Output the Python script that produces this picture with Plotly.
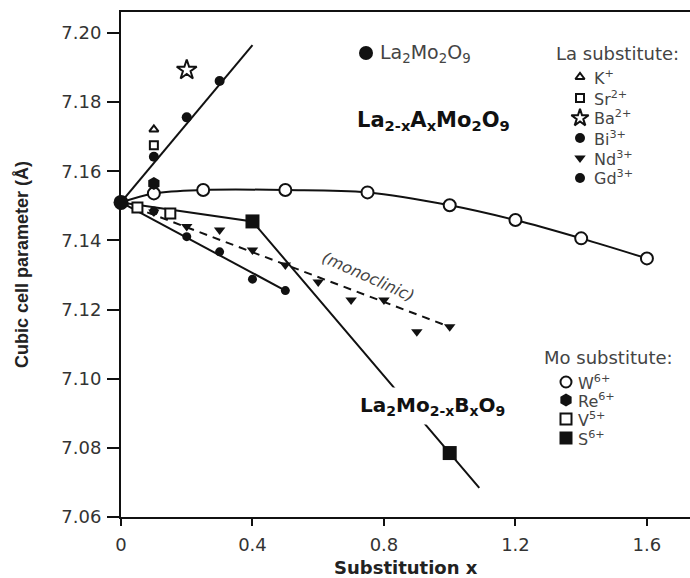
import plotly.graph_objects as go

# ---- data (cubic cell parameter in Angstrom vs substitution x) ----
parent_x = [0.0]
parent_y = [7.151]

# La-site substituents
k_x = [0.1]
k_y = [7.1721]
sr_x = [0.1]
sr_y = [7.1675]
ba_x = [0.2]
ba_y = [7.1893]
bi_x = [0.1, 0.2, 0.3]
bi_y = [7.1642, 7.1756, 7.1861]
bi_line_x = [0.0, 0.4]
bi_line_y = [7.151, 7.1965]
nd_x = [0.1, 0.2, 0.3, 0.4, 0.5, 0.6, 0.7, 0.8, 0.9, 1.0]
nd_y = [7.1482, 7.1440, 7.1430, 7.1372, 7.1329, 7.1280, 7.1228, 7.1228, 7.1136, 7.1150]
nd_line_x = [0.0, 1.0]
nd_line_y = [7.151, 7.115]
gd_x = [0.1, 0.2, 0.3, 0.4, 0.5]
gd_y = [7.1485, 7.1411, 7.1367, 7.1288, 7.1255]
gd_line_x = [0.0, 0.5]
gd_line_y = [7.151, 7.1255]

# Mo-site substituents
w_x = [0.1, 0.25, 0.5, 0.75, 1.0, 1.2, 1.4, 1.6]
w_y = [7.1536, 7.1546, 7.1546, 7.1539, 7.1502, 7.1459, 7.1406, 7.1348]
re_x = [0.1]
re_y = [7.1565]
v_x = [0.05, 0.15]
v_y = [7.1495, 7.1478]
s_x = [0.4, 1.0]
s_y = [7.1455, 7.0785]
s_line_x = [0.0, 0.4, 1.0, 1.09]
s_line_y = [7.151, 7.1455, 7.0785, 7.0684]

x_ticks = [0, 0.4, 0.8, 1.2, 1.6]
x_tick_text = ["0", "0.4", "0.8", "1.2", "1.6"]
y_ticks = [7.06, 7.08, 7.10, 7.12, 7.14, 7.16, 7.18, 7.20]

# ---- layout geometry ----
W, H = 690, 578
L, R, T, B = 121, 0, 12, 61
PW, PH = W - L - R, H - T - B
FONT = "DejaVu Sans, Arial, sans-serif"
ARIAL = "Arial, Liberation Sans, sans-serif"
INK = "#111"
GREY = "#444"


def px(xp):
    return (xp - L) / PW


def py(yp):
    return (H - B - yp) / PH


fig = go.Figure()

LINE = dict(color=INK, width=2)


def line(x, y, dash=None, shape="linear"):
    d = dict(LINE)
    if dash:
        d["dash"] = dash
    fig.add_trace(go.Scatter(x=x, y=y, mode="lines", line=d, line_shape=shape,
                             hoverinfo="skip", showlegend=False))


def pts(x, y, symbol, size, fill=INK, lw=0):
    fig.add_trace(go.Scatter(x=x, y=y, mode="markers", showlegend=False,
                             marker=dict(symbol=symbol, size=size, color=fill,
                                         line=dict(color=INK, width=lw)),
                             cliponaxis=False))


# fitted / guide lines
line(parent_x + w_x, parent_y + w_y, shape="spline")
line(bi_line_x, bi_line_y)
line(gd_line_x, gd_line_y)
line(nd_line_x, nd_line_y, dash="8px,6px")
line(s_line_x, s_line_y)

# data points
pts(w_x, w_y, "circle", 12, fill="white", lw=2)
pts(v_x, v_y, "square", 10, fill="white", lw=2)
pts(gd_x, gd_y, "circle", 9)
pts(nd_x, nd_y, "triangle-down", 10)
pts(bi_x, bi_y, "circle", 10)
pts(re_x, re_y, "hexagon", 13)
pts(k_x, k_y, "triangle-up", 8, fill="white", lw=2)
pts(sr_x, sr_y, "square", 8, fill="white", lw=2)
pts(ba_x, ba_y, "star", 15, fill="white", lw=2)
pts(s_x, s_y, "square", 14)
pts(parent_x, parent_y, "circle", 15)

# ---- key symbols on an overlay axis spanning the plot area ----
key_marks = [
    (366, 53, "circle", 14, INK, 0),
    (580, 77, "triangle-up", 8, "white", 2),
    (580, 98, "square", 8, "white", 2),
    (580, 118, "star", 13, "white", 2),
    (580, 138, "circle", 10, INK, 0),
    (580, 158, "triangle-down", 10, INK, 0),
    (580, 178, "circle", 10, INK, 0),
    (566, 382, "circle", 11, "white", 2),
    (566, 400, "hexagon", 13, INK, 0),
    (566, 419, "square", 11, "white", 2),
    (566, 438, "square", 13, INK, 0),
]
for xp, yp, sym, sz, fc, lw in key_marks:
    fig.add_trace(go.Scatter(x=[px(xp)], y=[py(yp)], xaxis="x2", yaxis="y2",
                             mode="markers", showlegend=False, cliponaxis=False,
                             hoverinfo="skip",
                             marker=dict(symbol=sym, size=sz, color=fc,
                                         line=dict(color=INK, width=lw))))

ann = []


def text(xp, yp, s, size=14, color=GREY, xanchor="left", family=FONT, **kw):
    ann.append(dict(x=px(xp), y=py(yp), xref="paper", yref="paper", text=s,
                    showarrow=False, xanchor=xanchor, yanchor="middle",
                    font=dict(family=family, size=size, color=color), **kw))


text(378, 54, "La<sub>2</sub>Mo<sub>2</sub>O<sub>9</sub>", size=19)
text(681, 54, "La substitute:", size=18, xanchor="right")
text(592, 77, "K<sup>+</sup>", size=16)
text(592, 98, "Sr<sup>2+</sup>", size=16)
text(592, 118, "Ba<sup>2+</sup>", size=16)
text(592, 138, "Bi<sup>3+</sup>", size=16)
text(592, 158, "Nd<sup>3+</sup>", size=16)
text(592, 178, "Gd<sup>3+</sup>", size=16)
text(355, 121, "<b>La<sub>2-x</sub>A<sub>x</sub>Mo<sub>2</sub>O<sub>9</sub></b>",
     size=21, color=INK)

text(675, 358, "Mo substitute:", size=18, xanchor="right")
text(576, 382, "W<sup>6+</sup>", size=16)
text(576, 400, "Re<sup>6+</sup>", size=16)
text(576, 419, "V<sup>5+</sup>", size=16)
text(576, 438, "S<sup>6+</sup>", size=16)
text(354, 406, "<b>La<sub>2</sub>Mo<sub>2-x</sub>B<sub>x</sub>O<sub>9</sub></b>",
     size=20, color=INK, bgcolor="white", borderpad=5)

text(368, 276, "<i>(monoclinic)</i>", size=16, xanchor="center", textangle=24)

# axis titles
text(406, 567, "<b>Substitution x</b>", size=18, color="#222", xanchor="center")
text(22, 265, "<b>Cubic cell parameter (Å)</b>", size=18, color="#222",
     xanchor="center", textangle=-90, family=ARIAL)

fig.update_layout(
    width=W, height=H,
    margin=dict(l=L, r=R, t=T, b=B),
    paper_bgcolor="white", plot_bgcolor="white",
    showlegend=False,
    annotations=ann,
    xaxis=dict(range=[0, PW / 328.7], tickvals=x_ticks, ticktext=x_tick_text,
               ticks="outside", ticklen=7, tickwidth=2, tickcolor=INK,
               ticklabelstandoff=3,
               showline=True, linewidth=2, linecolor=INK, mirror=True,
               showgrid=False, zeroline=False,
               tickfont=dict(family=FONT, size=18, color="#333")),
    yaxis=dict(range=[7.06, 7.06 + PH / 3457.0], tickvals=y_ticks,
               tickformat=".2f", ticks="outside", ticklen=12, tickwidth=2,
               tickcolor=INK, ticklabelstandoff=2,
               showline=True, linewidth=2, linecolor=INK,
               showgrid=False, zeroline=False,
               tickfont=dict(family=FONT, size=18, color="#333")),
    xaxis2=dict(range=[0, 1], overlaying="x", visible=False, fixedrange=True),
    yaxis2=dict(range=[0, 1], overlaying="y", visible=False, fixedrange=True),
)

fig.write_html("out.html")
